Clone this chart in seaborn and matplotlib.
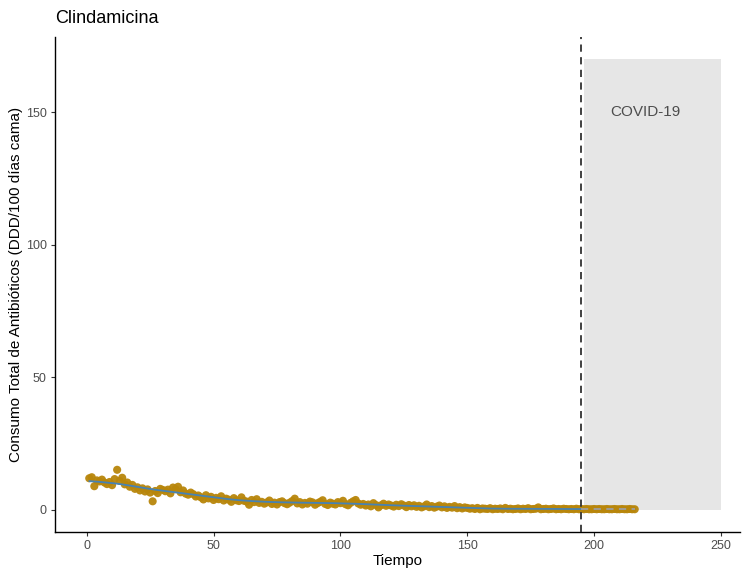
import numpy as np
import pandas as pd
import matplotlib
matplotlib.use("Agg")
import matplotlib.pyplot as plt
import seaborn as sns

titulo = "Clindamicina"
covid_inicio = 195
covid_fin = 250
covid_techo = 170
consumo = [
    11.8, 12.2, 8.8, 11.0, 10.6, 11.3, 10.2, 9.6, 10.4, 9.2,
    11.5, 15.0, 10.8, 12.0, 9.5, 10.2, 8.6, 9.3, 7.8, 8.4,
    7.2, 8.0, 6.8, 7.6, 6.4, 3.1, 7.0, 6.2, 7.8, 7.4,
    6.9, 7.5, 6.1, 8.3, 7.7, 8.6, 6.5, 7.2, 6.0, 5.6,
    6.4, 5.8, 4.9, 5.3, 4.6, 3.8, 5.4, 4.2, 4.8, 3.6,
    4.4, 3.9, 5.0, 3.4, 4.1, 3.7, 2.9, 4.3, 3.5, 3.2,
    4.6, 3.3, 3.0, 1.8, 3.6, 2.8, 3.9, 2.5, 2.9, 2.2,
    2.7, 3.4, 2.1, 2.6, 1.9, 2.8, 3.1, 2.4, 2.0, 2.6,
    3.2, 4.1, 2.3, 2.8, 1.9, 2.5, 2.2, 3.0, 2.7, 1.8,
    2.4, 2.9, 3.5, 2.1, 1.7, 2.6, 2.2, 1.9, 2.8, 2.4,
    3.3, 2.0, 1.6, 2.5, 3.1, 3.6, 2.3, 1.8, 2.1, 1.5,
    1.9, 1.2, 2.4, 1.7, 0.8, 1.6, 2.2, 1.4, 1.9, 1.5,
    1.1, 1.8, 1.3, 2.0, 1.5, 0.9, 1.7, 1.2, 1.6, 1.0,
    1.4, 0.8, 1.2, 1.9, 0.9, 1.3, 0.7, 1.1, 1.5, 0.8,
    1.2, 0.6, 1.0, 0.7, 1.3, 0.5, 0.9, 0.4, 0.8, 0.6,
    0.3, 0.5, 0.2, 0.6, 0.1, 0.4, 0.3, 0.2, 0.5, 0.1,
    0.3, 0.2, 0.4, 0.1, 0.6, 0.2, 0.3, 0.1, 0.2, 0.4,
    0.1, 0.3, 0.2, 0.5, 0.1, 0.2, 0.3, 0.8, 0.1, 0.2,
    0.3, 0.1, 0.2, 0.4, 0.1, 0.2, 0.1, 0.3, 0.2, 0.1,
    0.2, 0.1, 0.3, 0.1, 0.2, 0.1, 0.2, 0.1, 0.1, 0.2,
    0.1, 0.2, 0.1, 0.1, 0.2, 0.1, 0.1, 0.2, 0.1, 0.1,
    0.2, 0.1, 0.1, 0.2, 0.1, 0.1,
]
tiempo = list(range(1, len(consumo) + 1))
x_ticks = [0, 50, 100, 150, 200, 250]
y_ticks = [0, 50, 100, 150]

df = pd.DataFrame({"Tiempo": tiempo, "Consumo": consumo})
df["ajuste"] = df["Consumo"].rolling(41, center=True, min_periods=1, win_type="triang").mean()
df["ajuste"] = df["ajuste"].fillna(df["Consumo"])
pre = df[df["Tiempo"] <= covid_inicio]
post = df[df["Tiempo"] >= covid_inicio].copy()
post["ajuste"] = pre["ajuste"].iloc[-1]

sns.set_theme(style="white")
plt.rcParams["font.family"] = ["Liberation Sans", "DejaVu Sans"]

fig = plt.figure(figsize=(7.43, 5.69), dpi=100)
ax = fig.add_axes([0.074, 0.065, 0.922, 0.87])

ax.fill_between([covid_inicio + 1, covid_fin], 0, covid_techo, color="#E6E6E6", lw=0, zorder=0)
sns.scatterplot(data=df, x="Tiempo", y="Consumo", color="#B8860B", s=34,
                edgecolor="none", alpha=0.95, ax=ax, zorder=2)
sns.lineplot(data=pre, x="Tiempo", y="ajuste", color="#4682B4", lw=1.3, ax=ax, zorder=3)
sns.lineplot(data=post, x="Tiempo", y="ajuste", color="#9E9E9E", lw=1.3,
             linestyle=(0, (4, 3)), ax=ax, zorder=3)
ax.axvline(covid_inicio, color="#333333", lw=1.3, linestyle=(0, (4, 3)), zorder=4)
ax.text(220, 150, "COVID-19", ha="center", va="center", fontsize=11, color="#4D4D4D")

ax.set_xlim(-12.5, 257.5)
ax.set_ylim(-8.5, 178.5)
ax.set_xticks(x_ticks)
ax.set_yticks(y_ticks)
ax.tick_params(axis="both", colors="#333333", labelcolor="#4D4D4D", labelsize=9,
               length=3, width=0.8, direction="out", bottom=True, left=True, pad=3)
for s in ["top", "right"]:
    ax.spines[s].set_visible(False)
for s in ["left", "bottom"]:
    ax.spines[s].set_color("black")
    ax.spines[s].set_linewidth(1.0)
ax.set_xlabel("Tiempo", fontsize=11, color="black", labelpad=1)
ax.set_ylabel("Consumo Total de Antibióticos (DDD/100 días cama)", fontsize=11,
              color="black", labelpad=2)
ax.set_title(titulo, loc="left", fontsize=13, color="black", pad=10)

fig.savefig("out.png", dpi=100)
